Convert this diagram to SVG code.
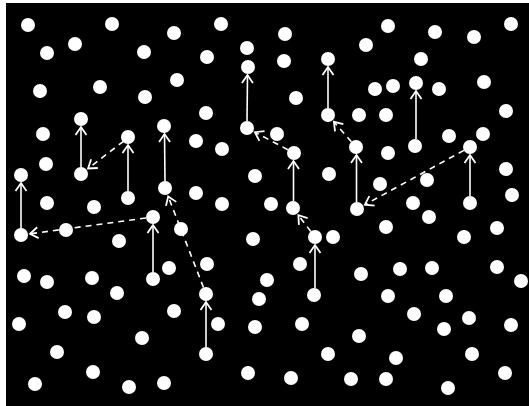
<svg xmlns="http://www.w3.org/2000/svg" width="529" height="406" viewBox="0 0 529 406">
<style>
.d{fill:#fff}
.c{stroke:#fff;stroke-width:1.6;fill:none}
.s{marker-end:url(#ah)}
.k{stroke-dasharray:6 5;marker-end:url(#ah)}
</style>
<defs>
<marker id="ah" markerUnits="userSpaceOnUse" markerWidth="14" markerHeight="14" viewBox="-10 -7 12 14" refX="0" refY="0" orient="auto" overflow="visible">
<path d="M-8,-5.5 L0,0 L-8,5.5" fill="none" stroke="#fff" stroke-width="1.8"/>
</marker>
</defs>
<rect x="0" y="0" width="529" height="406" fill="#fff"/>
<rect x="6" y="3" width="523" height="403" fill="#000"/>
<g id="connectors" class="c">
<line class="s" x1="247" y1="121" x2="247.5" y2="75"/>
<line class="s" x1="328" y1="108" x2="328" y2="67"/>
<line class="s" x1="416" y1="139" x2="416" y2="91"/>
<line class="s" x1="81" y1="167" x2="81" y2="127"/>
<line class="s" x1="128" y1="191" x2="128" y2="145"/>
<line class="s" x1="165" y1="181" x2="164.5" y2="134"/>
<line class="s" x1="21" y1="228" x2="21" y2="183"/>
<line class="s" x1="153" y1="272" x2="153" y2="225"/>
<line class="s" x1="206" y1="347" x2="206" y2="302"/>
<line class="s" x1="293.5" y1="201" x2="293.5" y2="161"/>
<line class="s" x1="315" y1="288" x2="315" y2="245"/>
<line class="s" x1="356.5" y1="202" x2="356.5" y2="155"/>
<line class="s" x1="470" y1="196" x2="470" y2="155"/>
<line class="k" x1="123.5" y1="141.3" x2="88.1" y2="168.5"/>
<line class="k" x1="146" y1="218" x2="30" y2="233.8"/>
<line class="k" x1="203.5" y1="287.5" x2="168.2" y2="196.4"/>
<line class="k" x1="287.8" y1="149.7" x2="254.9" y2="132.2"/>
<line class="k" x1="310.8" y1="231.4" x2="298.4" y2="215.2"/>
<line class="k" x1="351.4" y1="141.7" x2="333.9" y2="121.8"/>
<line class="k" x1="463.9" y1="150.4" x2="364.9" y2="204.7"/>
</g>
<g id="nodes" class="d">
<circle cx="28" cy="25" r="7"/><circle cx="112" cy="24" r="7"/><circle cx="174" cy="33" r="7"/><circle cx="75" cy="44" r="7"/><circle cx="47" cy="53" r="7"/><circle cx="144" cy="52" r="7"/>
<circle cx="221" cy="24" r="7"/><circle cx="285" cy="34" r="7"/><circle cx="207" cy="57" r="7"/><circle cx="247" cy="48" r="7"/><circle cx="248" cy="67" r="7"/><circle cx="284" cy="61" r="7"/><circle cx="328" cy="59" r="7"/><circle cx="177" cy="80" r="7"/><circle cx="296" cy="98" r="7"/><circle cx="206" cy="113" r="7"/><circle cx="247" cy="128" r="7"/><circle cx="277" cy="134" r="7"/><circle cx="328" cy="115" r="7"/><circle cx="196" cy="141" r="7"/>
<circle cx="388" cy="26" r="7"/><circle cx="435" cy="32" r="7"/><circle cx="474" cy="37" r="7"/><circle cx="511" cy="24" r="7"/><circle cx="366" cy="45" r="7"/><circle cx="421" cy="59" r="7"/><circle cx="375" cy="89" r="7"/><circle cx="393" cy="86" r="7"/><circle cx="416" cy="83" r="7"/><circle cx="439" cy="89" r="7"/><circle cx="484" cy="82" r="7"/><circle cx="359" cy="115" r="7"/><circle cx="386" cy="115" r="7"/><circle cx="506" cy="111" r="7"/><circle cx="449" cy="136" r="7"/><circle cx="483" cy="134" r="7"/>
<circle cx="40" cy="91" r="7"/><circle cx="100" cy="87" r="7"/><circle cx="145" cy="97" r="7"/><circle cx="81" cy="119" r="7"/><circle cx="43" cy="134" r="7"/><circle cx="128" cy="137" r="7"/><circle cx="164" cy="126" r="7"/>
<circle cx="46" cy="164" r="7"/><circle cx="81" cy="174" r="7"/><circle cx="21" cy="175" r="7"/><circle cx="128" cy="198" r="7"/><circle cx="165" cy="188" r="7"/><circle cx="47" cy="203" r="7"/><circle cx="94" cy="207" r="7"/><circle cx="153" cy="217" r="7"/><circle cx="21" cy="235" r="7"/><circle cx="66" cy="230" r="7"/><circle cx="119" cy="241" r="7"/><circle cx="181" cy="229" r="7"/><circle cx="169" cy="268" r="7"/>
<circle cx="222" cy="149" r="7"/><circle cx="294" cy="153" r="7"/><circle cx="255" cy="176" r="7"/><circle cx="329" cy="174" r="7"/><circle cx="196" cy="193" r="7"/><circle cx="222" cy="204" r="7"/><circle cx="271" cy="204" r="7"/><circle cx="293" cy="208" r="7"/><circle cx="315" cy="237" r="7"/><circle cx="333" cy="237" r="7"/><circle cx="253" cy="239" r="7"/><circle cx="207" cy="264" r="7"/><circle cx="300" cy="264" r="7"/>
<circle cx="356" cy="147" r="7"/><circle cx="415" cy="146" r="7"/><circle cx="470" cy="147" r="7"/><circle cx="388" cy="153" r="7"/><circle cx="506" cy="169" r="7"/><circle cx="380" cy="184" r="7"/><circle cx="427" cy="180" r="7"/><circle cx="512" cy="195" r="7"/><circle cx="357" cy="209" r="7"/><circle cx="413" cy="203" r="7"/><circle cx="470" cy="203" r="7"/><circle cx="429" cy="217" r="7"/><circle cx="386" cy="227" r="7"/><circle cx="497" cy="228" r="7"/><circle cx="464" cy="237" r="7"/>
<circle cx="361" cy="274" r="7"/><circle cx="400" cy="269" r="7"/><circle cx="432" cy="268" r="7"/><circle cx="497" cy="267" r="7"/><circle cx="521" cy="281" r="7"/>
<circle cx="24" cy="276" r="7"/><circle cx="47" cy="282" r="7"/><circle cx="92" cy="278" r="7"/><circle cx="153" cy="279" r="7"/><circle cx="117" cy="293" r="7"/><circle cx="65" cy="312" r="7"/><circle cx="94" cy="317" r="7"/><circle cx="174" cy="311" r="7"/><circle cx="19" cy="324" r="7"/><circle cx="142" cy="338" r="7"/><circle cx="57" cy="352" r="7"/><circle cx="93" cy="372" r="7"/><circle cx="35" cy="384" r="7"/><circle cx="129" cy="387" r="7"/><circle cx="164" cy="383" r="7"/>
<circle cx="267" cy="280" r="7"/><circle cx="206" cy="294" r="7"/><circle cx="259" cy="299" r="7"/><circle cx="314" cy="295" r="7"/><circle cx="218" cy="324" r="7"/><circle cx="255" cy="327" r="7"/><circle cx="302" cy="324" r="7"/><circle cx="206" cy="354" r="7"/><circle cx="328" cy="354" r="7"/><circle cx="248" cy="373" r="7"/><circle cx="291" cy="378" r="7"/><circle cx="351" cy="379" r="7"/>
<circle cx="388" cy="296" r="7"/><circle cx="446" cy="296" r="7"/><circle cx="414" cy="314" r="7"/><circle cx="469" cy="318" r="7"/><circle cx="444" cy="329" r="7"/><circle cx="511" cy="325" r="7"/><circle cx="359" cy="336" r="7"/><circle cx="396" cy="358" r="7"/><circle cx="472" cy="354" r="7"/><circle cx="505" cy="373" r="7"/><circle cx="386" cy="379" r="7"/><circle cx="448" cy="388" r="7"/>
</g>
</svg>
